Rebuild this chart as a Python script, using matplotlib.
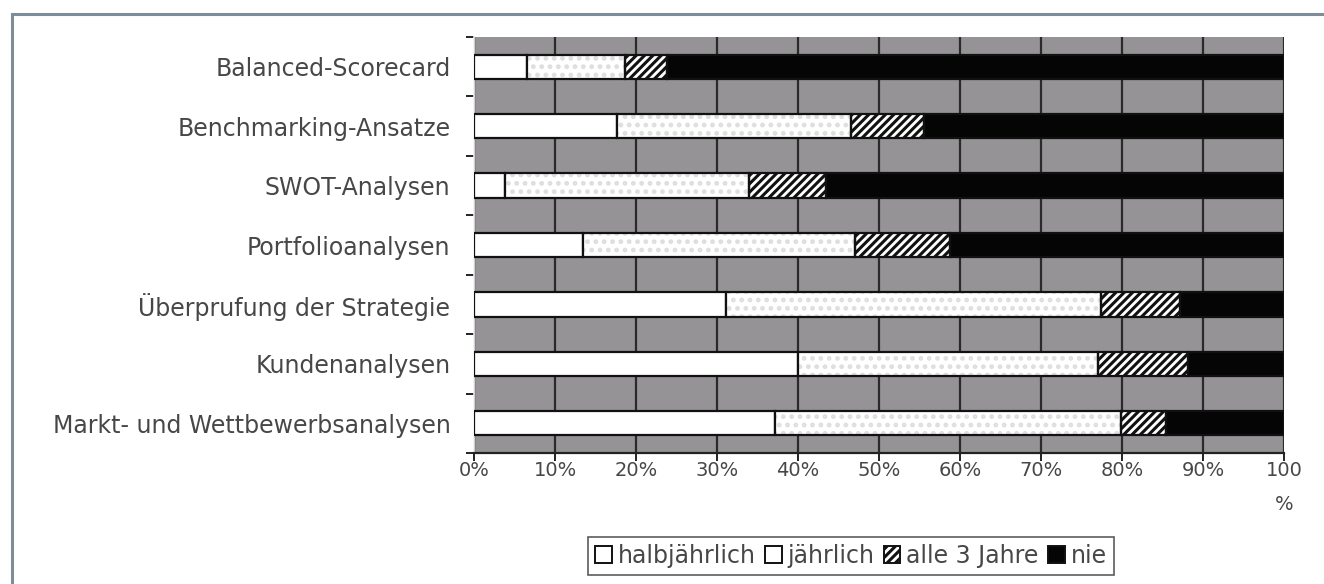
import matplotlib
matplotlib.use("Agg")
import matplotlib.pyplot as plt
from matplotlib.patches import Rectangle, Patch
from matplotlib.ticker import FixedLocator
import numpy as np

categories = [
    "Balanced-Scorecard",
    "Benchmarking-Ansatze",
    "SWOT-Analysen",
    "Portfolioanalysen",
    "Überprufung der Strategie",
    "Kundenanalysen",
    "Markt- und Wettbewerbsanalysen",
]
halbjaehrlich = [6.5, 17.6, 3.8, 13.4, 31.1, 40.0, 37.1]
jaehrlich = [12.2, 29.0, 30.1, 33.6, 46.3, 37.0, 42.8]
alle_3_jahre = [5.1, 8.9, 9.6, 11.8, 9.7, 11.1, 5.5]
nie = [76.2, 44.5, 56.5, 41.2, 12.9, 11.9, 14.6]
series_names = ["halbjährlich", "jährlich", "alle 3 Jahre", "nie"]
x_ticks = [0, 10, 20, 30, 40, 50, 60, 70, 80, 90, 100]
x_ticklabels = ["0%", "10%", "20%", "30%", "40%", "50%", "60%", "70%", "80%", "90%", "100\n%"]

plt.rcParams["font.family"] = ["DejaVu Sans"]
plt.rcParams["hatch.linewidth"] = 2.2

TEXT = "#474747"
GRAY = "#959395"
EDGE = "#111111"

fig = plt.figure(figsize=(13.24, 5.84), dpi=100)
fig.patch.set_facecolor("white")

# outer frame of the chart object
fig.patches.append(Rectangle((12 / 1324, -0.05), 2.0, 1 - 14 / 584 + 0.05,
                             transform=fig.transFigure, fill=False,
                             edgecolor="#7f8c99", linewidth=2.2, zorder=0))

ax = fig.add_axes([474 / 1324, 1 - 453 / 584, 810 / 1324, 416 / 584])
ax.set_facecolor(GRAY)

y = np.arange(len(categories))
h = 0.41
left = np.zeros(len(categories))

# halbjährlich: plain white
ax.barh(y, halbjaehrlich, left=left, height=h, color="white",
        edgecolor=EDGE, linewidth=1.6, zorder=3)
left += np.array(halbjaehrlich)

# jährlich: white with faint dots
ax.barh(y, jaehrlich, left=left, height=h, color="white",
        edgecolor="#dedede", linewidth=0, hatch="..", zorder=3)
ax.barh(y, jaehrlich, left=left, height=h, color="none",
        edgecolor=EDGE, linewidth=1.6, zorder=4)
left += np.array(jaehrlich)

# alle 3 Jahre: diagonal stripes
ax.barh(y, alle_3_jahre, left=left, height=h, color="white",
        edgecolor=EDGE, linewidth=1.6, hatch="////", zorder=3)
left += np.array(alle_3_jahre)

# nie: solid black
ax.barh(y, nie, left=left, height=h, color="#050505",
        edgecolor=EDGE, linewidth=1.6, zorder=3)

ax.set_xlim(0, 100)
ax.set_ylim(len(categories) - 0.5, -0.5)

ax.set_xticks(x_ticks)
xt = ax.set_xticklabels(x_ticklabels, fontsize=14, color=TEXT, va="top")
xt[-1].set_linespacing(2.0)
ax.tick_params(axis="x", length=6, width=1.4, color="#222222", pad=0)

ax.set_yticks(y)
ax.set_yticklabels(categories, fontsize=17, color=TEXT)
ax.tick_params(axis="y", which="major", length=0, pad=17)
ax.yaxis.set_minor_locator(FixedLocator(np.arange(-0.5, len(categories), 1.0)))
ax.tick_params(axis="y", which="minor", length=6, width=1.4, color="#222222")

ax.grid(axis="x", color="#2a2a2a", linewidth=1.6, zorder=1)
ax.set_axisbelow(True)

for side in ["top", "right"]:
    ax.spines[side].set_visible(False)
ax.spines["left"].set_color("#f2f2f2")
ax.spines["left"].set_linewidth(1.2)
ax.spines["bottom"].set_color("#222222")
ax.spines["bottom"].set_linewidth(1.6)

handles = [
    Patch(facecolor="white", edgecolor=EDGE, linewidth=1.4),
    Patch(facecolor="white", edgecolor=EDGE, linewidth=1.4),
    Patch(facecolor="white", edgecolor=EDGE, linewidth=1.4, hatch="////"),
    Patch(facecolor="#050505", edgecolor=EDGE, linewidth=1.4),
]
leg = fig.legend(handles, series_names, loc="center", ncol=4,
                 bbox_to_anchor=(851 / 1324, 1 - 556 / 584),
                 fontsize=17, frameon=True, fancybox=False,
                 handlelength=0.7, handleheight=0.7, handletextpad=0.25,
                 columnspacing=0.4, borderpad=0.3, borderaxespad=0)
leg.get_frame().set_edgecolor("#333333")
leg.get_frame().set_linewidth(1.2)
for t in leg.get_texts():
    t.set_color(TEXT)

fig.savefig("out.png", dpi=100)
